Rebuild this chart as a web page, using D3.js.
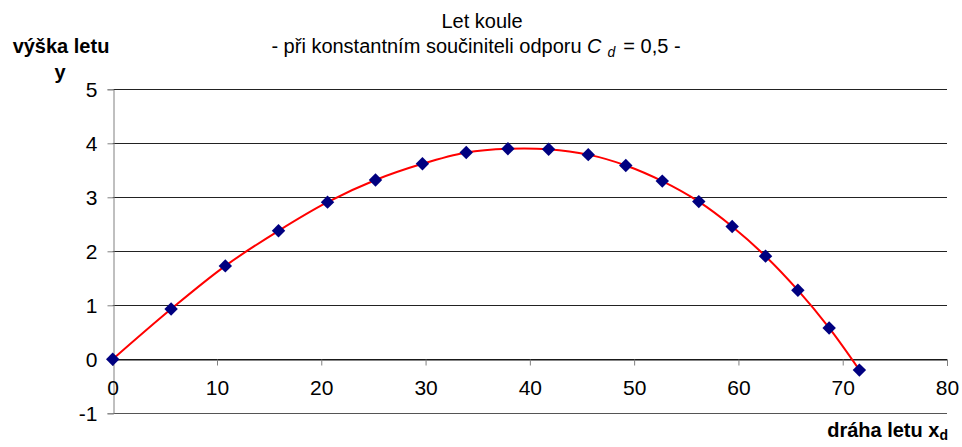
<!DOCTYPE html>
<html>
<head>
<meta charset="utf-8">
<script src="https://cdn.jsdelivr.net/npm/d3@7"></script>
<style>
  body { margin: 0; background: #fff; }
  svg { display: block; font-family: "Liberation Sans", Arial, sans-serif; }
</style>
</head>
<body>
<div id="chart"></div>
<script>
// distance of flight (x) and height (y) of the shot
const xValues = [0, 5.6, 10.8, 15.9, 20.6, 25.2, 29.7, 33.9, 37.9, 41.8, 45.6, 49.2, 52.7, 56.2, 59.4, 62.6, 65.7, 68.7, 71.6];
const yValues = [0, 0.93, 1.73, 2.38, 2.91, 3.32, 3.62, 3.83, 3.90, 3.89, 3.79, 3.59, 3.30, 2.92, 2.46, 1.91, 1.28, 0.58, -0.20];
const xTicks = [0, 10, 20, 30, 40, 50, 60, 70, 80];
const yTicks = [-1, 0, 1, 2, 3, 4, 5];

const width = 962, height = 447;
const points = xValues.map((x, i) => ({x, y: yValues[i]}));

const svg = d3.select("#chart").append("svg")
  .attr("width", width).attr("height", height);

const x = d3.scaleLinear().domain([0, 80]).range([112.7, 947]);
const y = d3.scaleLinear().domain([-1, 5]).range([413.3, 89.3]);

// gridlines
svg.append("g")
  .selectAll("line")
  .data(yTicks)
  .join("line")
    .attr("x1", x(0)).attr("x2", x(80))
    .attr("y1", d => Math.round(y(d)) + 0.5).attr("y2", d => Math.round(y(d)) + 0.5)
    .attr("stroke", d => d === -1 ? "#555" : "#222")
    .attr("stroke-width", 1);

// y axis
const yAxis = svg.append("g")
  .attr("transform", `translate(${Math.round(x(0)) + 0.5},0)`)
  .call(d3.axisLeft(y).tickValues(yTicks).tickSize(6).tickPadding(10).tickFormat(d => String(d)));
yAxis.select(".domain").attr("stroke", "#808080");
yAxis.selectAll(".tick line").attr("stroke", "#808080");
yAxis.selectAll("text").attr("font-size", 21).attr("fill", "#000").attr("font-family", null);

// x axis on y = 0
const xAxis = svg.append("g")
  .attr("transform", `translate(0,${Math.round(y(0)) + 0.5})`)
  .call(d3.axisBottom(x).tickValues(xTicks).tickSize(6).tickPadding(15).tickFormat(d => String(d)));
xAxis.select(".domain").attr("stroke", "#111");
xAxis.selectAll(".tick line").attr("stroke", "#808080");
xAxis.selectAll("text").attr("font-size", 21).attr("fill", "#000").attr("font-family", null);

// smoothed line
svg.append("path")
  .datum(points)
  .attr("fill", "none")
  .attr("stroke", "#ff0000")
  .attr("stroke-width", 2)
  .attr("d", d3.line().x(d => x(d.x)).y(d => y(d.y)).curve(d3.curveCatmullRom.alpha(0.5)));

// diamond markers
svg.append("g")
  .selectAll("path")
  .data(points)
  .join("path")
    .attr("transform", d => `translate(${x(d.x)},${y(d.y)}) rotate(45)`)
    .attr("d", d3.symbol(d3.symbolSquare, 90))
    .attr("fill", "#000080");

// titles
svg.append("text")
  .attr("x", 482).attr("y", 28)
  .attr("text-anchor", "middle")
  .attr("font-size", 20)
  .text("Let koule");

const sub = svg.append("text")
  .attr("x", 476).attr("y", 53)
  .attr("text-anchor", "middle")
  .attr("font-size", 20);
sub.append("tspan").text("- při konstantním součiniteli odporu ");
sub.append("tspan").attr("font-style", "italic").text("C");
sub.append("tspan").attr("font-style", "italic").attr("font-size", 14).attr("dx", 6).attr("dy", 4).text("d");
sub.append("tspan").attr("dy", -4).attr("dx", 8).text("= 0,5 -");

svg.append("text")
  .attr("x", 61).attr("y", 53)
  .attr("text-anchor", "middle")
  .attr("font-size", 20).attr("font-weight", "bold")
  .text("výška letu");
svg.append("text")
  .attr("x", 60).attr("y", 79)
  .attr("text-anchor", "middle")
  .attr("font-size", 20).attr("font-weight", "bold")
  .text("y");

const xt = svg.append("text")
  .attr("x", 948).attr("y", 437)
  .attr("text-anchor", "end")
  .attr("font-size", 20).attr("font-weight", "bold");
xt.append("tspan").text("dráha letu x");
xt.append("tspan").attr("font-size", 14).attr("dy", 3).text("d");
</script>
</body>
</html>
